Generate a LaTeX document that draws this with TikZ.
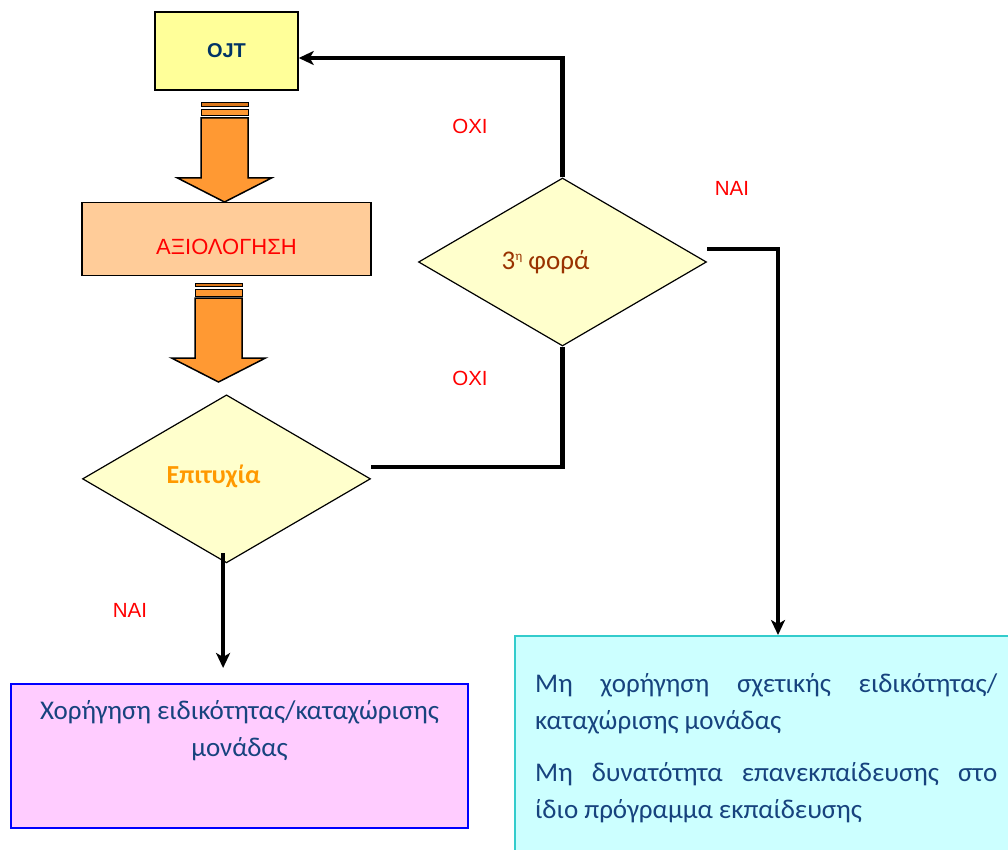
\documentclass[tikz,border=0pt]{standalone}
\usepackage{fontspec}
\setmainfont{Carlito}
\newfontfamily\arialfont{Liberation Sans}
\usepackage{tikz}
\usetikzlibrary{shapes.geometric,positioning,calc,arrows.meta}
\definecolor{ojtyellow}{HTML}{FFFF99}
\definecolor{evalpeach}{HTML}{FFCC99}
\definecolor{arroworange}{HTML}{FF9933}
\definecolor{stripeorange}{HTML}{D9761A}
\definecolor{decisionfill}{HTML}{FFFFCC}
\definecolor{navytext}{HTML}{003366}
\definecolor{boxtext}{HTML}{17437E}
\definecolor{grantpink}{HTML}{FFCCFF}
\definecolor{failcyan}{HTML}{CCFFFF}
\definecolor{failborder}{HTML}{33CCCC}
\definecolor{countbrown}{HTML}{993300}
\definecolor{successorange}{HTML}{FF9900}
% big orange arrow: #1 = middle x, #2 = top y
\newcommand{\bigarrow}[2]{
  \draw[blockarrow,line width=1pt,fill=stripeorange] (#1-23.5,#2) rectangle (#1+23.5,#2+3.5);
  \draw[blockarrow,line width=1pt] (#1-23.5,#2+6.5) rectangle (#1+23.5,#2+13);
  \draw[blockarrow] (#1-23.5,#2+15) -- (#1+23.5,#2+15) -- (#1+23.5,#2+75)
     -- (#1+47,#2+75) -- (#1,#2+99) -- (#1-47,#2+75) -- (#1-23.5,#2+75) -- cycle;
}
\tikzset{
  stepbox/.style args={#1,#2}{
  rectangle,
  draw=black,
  line width=1.5pt,
  minimum width=#1,
  minimum height=#2,
  inner sep=0pt
  },
  resultbox/.style args={#1,#2}{
  stepbox={#1,#2},
  line width=2.2pt
  },
  decision/.style={diamond,draw=black,line width=1.2pt,fill=decisionfill,
   minimum width=288pt,minimum height=168pt,inner sep=0pt},
  blockarrow/.style={draw=black,line width=1.5pt,fill=arroworange,line join=miter},
  flow/.style={draw=black,line width=4.5pt},
  flowarrow/.style={flow,-{Stealth[length=15pt,width=14pt,inset=4pt]}},
  answer/.style={font=\arialfont\fontsize{20.5}{24}\selectfont,text=red,inner sep=0pt},
  boxlabel/.style={font=\fontsize{27}{37}\selectfont,text=boxtext,inner sep=0pt}
}
\begin{document}
\begin{tikzpicture}[x=1pt,y=-1pt]
  \clip (0,0) rectangle (1008,850);

  \node[stepbox={143pt,78pt},fill=ojtyellow,text=navytext,
        font=\arialfont\bfseries\fontsize{20}{24}\selectfont] (ojt) at (226.5,51) {OJT};
  \node[stepbox={289pt,73pt},fill=evalpeach,below=111pt of ojt] (eval) {};
  \node[text=red,font=\arialfont\fontsize{22}{26}\selectfont] (evaltxt) at ($(eval)+(0,8)$) {ΑΞΙΟΛΟΓΗΣΗ};
  \bigarrow{224.5}{103}
  \bigarrow{218.5}{283}

  \node[decision,below=118pt of eval] (succ) {};
  \node[text=successorange,font=\bfseries\fontsize{26}{30}\selectfont] (succtxt) at ($(succ)+(-13,-2)$) {Επιτυχία};
  \node[decision] (third) at (562.5,262) {};
  \node[text=countbrown,font=\fontsize{27}{30}\selectfont] (thirdtxt) at ($(third)+(-17,0)$)
       {3\raisebox{9pt}{\fontsize{13}{13}\selectfont η} φορά};

  \node[resultbox={457pt,144pt},fill=grantpink,draw=blue,anchor=north west] (grant) at (10,683) {};
  \node[boxlabel,align=center,anchor=north] (granttxt) at ($(grant.north)+(0,10)$)
       {\strut Χορήγηση ειδικότητας/καταχώρισης\\μονάδας};
  \node[resultbox={520pt,240pt},fill=failcyan,draw=failborder,anchor=north west] (fail) at (514,635) {};
  \node[boxlabel,text width=462pt,align=justify,anchor=north west] (failtxt) at (535,666)
       {\strut Μη χορήγηση σχετικής ειδικότητας/\linebreak καταχώρισης μονάδας\\[15pt]
        \strut Μη δυνατότητα επανεκπαίδευσης στο\linebreak ίδιο πρόγραμμα εκπαίδευσης};

  \coordinate (succout) at ($(succ.east)+(0,-12)$);
  \coordinate (thirdout) at ($(third.east)+(0,-13)$);
  \coordinate (ojtin) at ($(ojt.east)+(0,7)$);
  \coordinate (grantin) at ($(grant.north)+(-16.5,-15)$);
  \coordinate (failin) at ($(fail.north west)+(264,0)$);

  \draw[flow] (succout) -| (third.south);
  \draw[flowarrow] (third.north) |- (ojtin);
  \draw[flowarrow] (thirdout) -| (failin);
  \draw[flowarrow] ($(succ.south -| grantin)+(0,-10)$) -- (grantin);

  \node[answer] (no1) at (470,126) {ΟΧΙ};
  \node[answer] (no2) at (470,378) {ΟΧΙ};
  \node[answer] (yes1) at (732,188) {ΝΑΙ};
  \node[answer] (yes2) at (130,610) {ΝΑΙ};
\end{tikzpicture}
\end{document}
